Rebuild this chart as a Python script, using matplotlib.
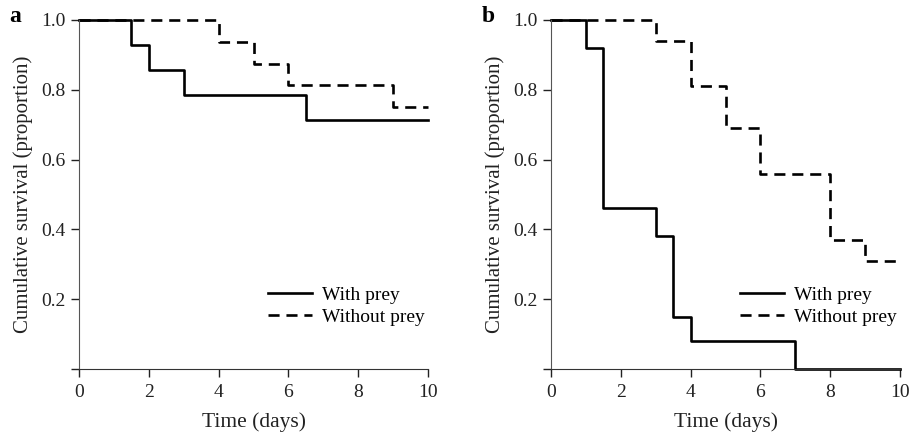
import matplotlib
matplotlib.use('Agg')
import matplotlib.pyplot as plt

# Kaplan-Meier style survival curves
# panel a
a_with_t = [0, 1.5, 2, 3, 6.5, 10]
a_with_s = [1.0, 0.929, 0.857, 0.786, 0.714, 0.714]
a_without_t = [0, 4, 5, 6, 9, 10]
a_without_s = [1.0, 0.9375, 0.875, 0.8125, 0.75, 0.75]

# panel b
b_with_t = [0, 1, 1.5, 3, 3.5, 4, 7, 10]
b_with_s = [1.0, 0.92, 0.46, 0.38, 0.15, 0.08, 0.0, 0.0]
b_without_t = [0, 3, 4, 5, 6, 8, 9, 10]
b_without_s = [1.0, 0.94, 0.81, 0.69, 0.56, 0.37, 0.31, 0.31]

x_ticks = [0, 2, 4, 6, 8, 10]
y_ticks = [0.0, 0.2, 0.4, 0.6, 0.8, 1.0]
y_ticklabels = ['', '0.2', '0.4', '0.6', '0.8', '1.0']

plt.rcParams['font.family'] = ['Liberation Serif', 'DejaVu Serif']

W, H = 915, 434
fig = plt.figure(figsize=(W / 100, H / 100), dpi=100)


def make_panel(left_px, letter, wt, ws, wot, wos):
    ax = fig.add_axes([left_px / W, 65 / H, 349.6 / W, 349 / H])
    ax.step(wt, ws, where='post', color='black', lw=1.9,
            label='With prey', clip_on=False)
    ax.step(wot, wos, where='post', color='black', lw=1.9,
            dashes=(4.2, 2.6), label='Without prey', clip_on=False)
    ax.set_xlim(0, 10)
    ax.set_ylim(0, 1.0)
    ax.set_xticks(x_ticks)
    ax.set_yticks(y_ticks)
    ax.set_yticklabels(y_ticklabels)
    for s in ['top', 'right']:
        ax.spines[s].set_visible(False)
    ax.spines['left'].set_color('#555555')
    ax.spines['bottom'].set_color('#333333')
    ax.tick_params(direction='out', length=6, width=1, labelsize=14,
                   colors='#222222')
    ax.tick_params(axis='x', pad=5)
    ax.set_xlabel('Time (days)', fontsize=15.5, color='#222222', labelpad=8)
    ax.set_ylabel('Cumulative survival (proportion)', fontsize=15,
                  color='#222222', labelpad=6)
    ax.legend(loc='center left', bbox_to_anchor=(0.49, 0.18), frameon=False,
              fontsize=14, handlelength=2.3, handletextpad=0.5,
              labelspacing=0.2)
    fig.text((left_px - 69) / W, 1 - 16 / H, letter, fontsize=17,
             fontweight='bold', va='center', ha='left')
    return ax


make_panel(78.7, 'a', a_with_t, a_with_s, a_without_t, a_without_s)
make_panel(550.7, 'b', b_with_t, b_with_s, b_without_t, b_without_s)

fig.savefig('out.png', dpi=100)
